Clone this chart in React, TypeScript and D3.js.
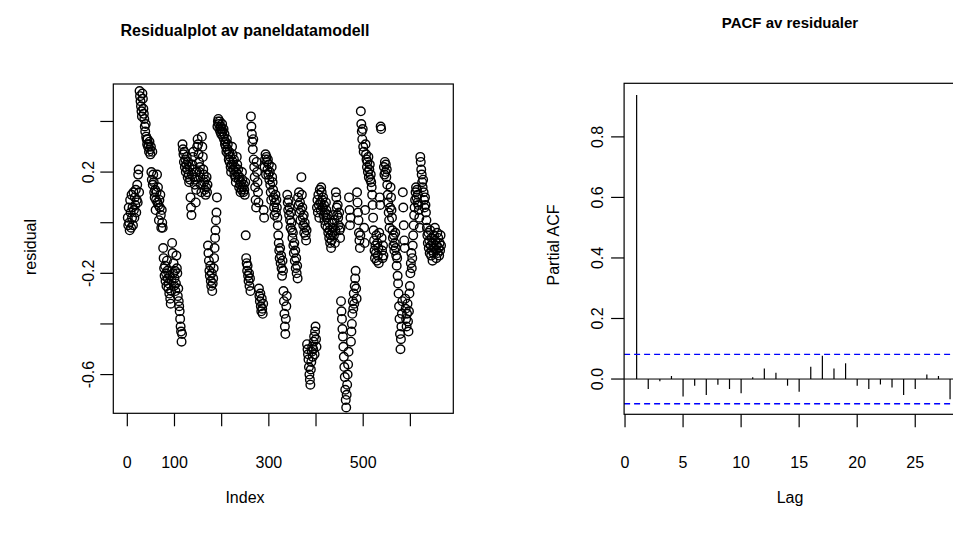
import React from "react";
import * as d3 from "d3";

// Residuals (index 1..N)
const residuals: number[] = [
  0.02, -0.01, 0.06, 0.00, -0.03, 0.09, 0.04, -0.02, 0.11, 0.02,
  0.06, -0.01, 0.12, 0.05, 0.02, 0.10, 0.07, 0.13, 0.04, 0.09, 0.15,
  0.08, 0.19, 0.21, 0.12, 0.52, 0.50, 0.48, 0.46, 0.44, 0.42,
  0.51, 0.49, 0.45, 0.43, 0.41, 0.38, 0.36, 0.39, 0.34, 0.33, 0.31,
  0.33, 0.30, 0.31, 0.28, 0.32, 0.29, 0.27, 0.30, 0.20, 0.17,
  0.28, 0.15, 0.19, 0.16, 0.12, 0.10, 0.13, 0.05, 0.09, 0.12, 0.19,
  0.08, 0.14, 0.07, 0.01, 0.09, 0.06, 0.11, 0.03, -0.02, 0.05,
  0.00, -0.02, -0.10, -0.14, -0.18, -0.21, -0.17, -0.23, -0.20, -0.25, -0.15,
  -0.19, -0.22, -0.26, -0.24, -0.28, -0.21, -0.30, -0.32, -0.27, -0.23,
  -0.08, -0.12, -0.20, -0.16, -0.25, -0.22, -0.19, -0.27, -0.24, -0.13, -0.18,
  -0.20, -0.29, -0.26, -0.31, -0.33, -0.35, -0.38, -0.41, -0.43, -0.47,
  -0.44, 0.31, 0.29, 0.27, 0.24, 0.28, 0.22, 0.25, 0.20, 0.23, 0.26,
  0.21, 0.18, 0.24, 0.19, 0.16, 0.22, 0.17, 0.10, 0.06, 0.03,
  0.19, 0.23, 0.26, 0.28, 0.21, 0.18, 0.15, 0.17, 0.08, 0.13, 0.20,
  0.30, 0.33, 0.31, 0.27, 0.24, 0.20, 0.22, 0.18, 0.15, 0.12,
  0.34, 0.30, 0.26, 0.21, 0.19, 0.16, 0.13, 0.17, 0.11, 0.14, 0.18,
  0.12, 0.15, -0.09, -0.12, -0.15, -0.19, -0.21, -0.17, -0.23, -0.25,
  -0.20, -0.27, -0.24, -0.22, -0.18, -0.14, -0.10, -0.06, -0.03, 0.01, 0.04,
  0.10, 0.38, 0.40, 0.41, 0.39, 0.37, 0.40, 0.36, 0.38, 0.35,
  0.37, 0.39, 0.36, 0.34, 0.37, 0.33, 0.35, 0.31, 0.32, 0.30, 0.28,
  0.33, 0.29, 0.31, 0.27, 0.25, 0.28, 0.24, 0.26, 0.22, 0.20,
  0.23, 0.30, 0.27, 0.24, 0.21, 0.25, 0.19, 0.22, 0.18, 0.16, 0.20,
  0.26, 0.23, 0.19, 0.21, 0.17, 0.14, 0.18, 0.15, 0.12, 0.16,
  0.13, 0.20, 0.17, 0.14, 0.12, 0.15, 0.13, 0.11, 0.16, -0.05, -0.14,
  -0.16, -0.19, -0.17, -0.21, -0.23, -0.20, -0.25, -0.22, -0.27, 0.42,
  0.38, 0.35, 0.32, 0.29, 0.33, 0.25, 0.22, 0.18, 0.14, 0.09, 0.06,
  0.24, 0.20, 0.16, 0.12, 0.08, -0.26, -0.29, -0.31, -0.28, -0.33,
  -0.35, -0.30, -0.34, -0.36, -0.32, 0.05, 0.02, 0.22, 0.25, 0.27, 0.19,
  0.26, 0.24, 0.21, 0.25, 0.19, 0.23, 0.17, 0.20, 0.15, 0.12,
  0.09, 0.22, 0.18, 0.16, 0.13, 0.10, 0.06, 0.03, 0.08, 0.11, 0.04,
  0.09, 0.06, 0.02, -0.01, -0.05, -0.08, -0.11, -0.14, -0.10, -0.16,
  -0.13, -0.18, -0.21, -0.15, -0.19, -0.27, -0.31, -0.36, -0.41, -0.44, -0.38,
  -0.33, -0.29, 0.11, 0.08, 0.05, 0.09, 0.03, 0.06, 0.01, -0.02,
  0.04, 0.00, -0.03, -0.06, -0.04, -0.09, -0.12, -0.08, -0.15, -0.11, -0.18,
  -0.14, -0.20, -0.17, -0.22, 0.10, 0.07, 0.12, 0.04, 0.08, 0.01,
  0.05, 0.18, 0.11, 0.06, 0.02, -0.01, 0.03, -0.04, 0.00, -0.02, -0.05,
  -0.07, -0.03, -0.48, -0.50, -0.52, -0.54, -0.57, -0.60, -0.62, -0.64,
  -0.58, -0.55, -0.51, -0.49, -0.53, -0.50, -0.47, -0.45, -0.52, -0.43, -0.41,
  -0.46, -0.49, 0.06, 0.09, 0.04, 0.11, 0.07, 0.02, 0.13, 0.08,
  0.05, 0.14, 0.12, 0.09, 0.06, 0.10, 0.03, 0.07, 0.01, 0.04, -0.01,
  0.08, 0.05, 0.02, -0.02, 0.03, -0.04, 0.00, -0.06, -0.03, -0.08,
  -0.05, -0.10, -0.07, -0.04, 0.00, -0.02, 0.03, -0.05, 0.01, -0.08, -0.03,
  0.12, 0.10, 0.06, 0.03, 0.07, 0.02, -0.01, 0.04, -0.03, -0.06,
  -0.02, -0.31, -0.35, -0.38, -0.42, -0.45, -0.49, -0.53, -0.57, -0.61, -0.66,
  -0.70, -0.73, -0.68, -0.64, -0.60, -0.56, -0.51, 0.10, 0.05, -0.01,
  0.02, -0.47, -0.43, -0.40, -0.36, -0.31, -0.34, -0.28, -0.32, -0.25, -0.22,
  -0.19, -0.26, -0.30, 0.12, 0.08, 0.04, 0.01, -0.04, -0.07, -0.10,
  -0.05, 0.44, 0.39, 0.36, 0.33, 0.37, 0.30, 0.28, -0.02, -0.08, 0.05,
  0.31, 0.27, 0.25, 0.22, 0.24, 0.20, 0.26, 0.18, 0.21, 0.23,
  0.17, 0.19, 0.16, 0.14, 0.11, 0.07, 0.02, -0.03, -0.07, -0.11, -0.14,
  -0.09, -0.12, -0.05, -0.15, -0.08, -0.13, -0.10, -0.16, -0.04, 0.10,
  0.07, 0.38, 0.37, -0.06, -0.11, -0.14, -0.09, -0.13, 0.22, 0.19, 0.24,
  0.20, 0.23, 0.18, 0.21, 0.15, 0.11, 0.08, 0.04, 0.01, -0.02,
  0.06, 0.14, 0.10, 0.05, 0.02, -0.03, -0.06, -0.09, -0.05, -0.11, -0.08,
  -0.04, -0.10, -0.13, -0.17, -0.14, -0.21, -0.24, -0.28, -0.33, -0.38,
  -0.44, -0.50, -0.46, -0.41, -0.36, -0.31, 0.12, 0.06, -0.01, -0.07, -0.10,
  -0.30, -0.34, -0.38, -0.41, -0.36, -0.32, -0.39, -0.43, -0.35, -0.28,
  -0.25, -0.20, -0.16, -0.12, -0.18, -0.14, -0.09, -0.05, -0.01, 0.03, 0.06,
  0.09, 0.12, 0.14, 0.10, 0.13, 0.08, 0.11, 0.07, 0.05, 0.02,
  -0.02, 0.26, 0.24, 0.21, 0.19, 0.16, 0.14, 0.17, 0.12, 0.09, 0.06,
  0.10, 0.07, 0.04, 0.01, -0.02, -0.05, -0.08, -0.04, -0.10, -0.07,
  -0.12, -0.03, -0.09, -0.13, -0.06, -0.11, -0.15, -0.08, -0.12, -0.05, -0.10,
  -0.02, -0.07, -0.11, -0.14, -0.09, -0.04, -0.12, -0.06, -0.10, -0.13,
  -0.08, -0.11, -0.05, -0.09,
];

const residXTicks = [0, 100, 200, 300, 400, 500, 600];
const residXLabels = ["0", "100", "", "300", "", "500", ""];
const residYTicks = [-0.6, -0.4, -0.2, 0, 0.2, 0.4];
const residYLabels = ["-0.6", "", "-0.2", "", "0.2", ""];

const pacfLags = [1, 2, 3, 4, 5, 6, 7, 8, 9, 10, 11, 12, 13, 14, 15, 16, 17, 18, 19, 20, 21, 22, 23, 24, 25, 26, 27, 28];
const pacfValues = [
  0.938, -0.033, -0.007, 0.010, -0.058, -0.022, -0.053, -0.019, -0.033, -0.047,
  0.006, 0.035, 0.021, -0.022, -0.042, 0.041, 0.077, 0.035, 0.052, -0.022,
  -0.033, -0.018, -0.028, -0.053, -0.033, 0.015, 0.010, -0.067,
];
const pacfClim = 0.0816;
const pacfXTicks = [0, 5, 10, 15, 20, 25];
const pacfYTicks = [0, 0.2, 0.4, 0.6, 0.8];

const FONT = "'Liberation Sans', Arial, Helvetica, sans-serif";
const FS = 16;

export default function App() {
  // Left panel
  const L = { x0: 113.3, x1: 453.3, y0: 84, y1: 413.3 };
  const xL = d3.scaleLinear().domain([-29.7, 691]).range([L.x0, L.x1]);
  const yL = d3.scaleLinear().domain([-0.753, 0.548]).range([L.y1, L.y0]);

  // Right panel
  const R = { x0: 624.1, x1: 962.6, y0: 83.3, y1: 414.3 };
  const xR = d3.scaleLinear().domain([-0.08, 29.08]).range([R.x0, R.x1]);
  const yR = d3.scaleLinear().domain([-0.1165, 0.977]).range([R.y1, R.y0]);

  const tick = 13;

  return (
    <svg
      width={953}
      height={533}
      style={{ position: "absolute", left: 0, top: 0, display: "block", background: "#fff" }}
      fontFamily={FONT}
    >
      <rect x={0} y={0} width={953} height={533} fill="#fff" />

      {/* ---------- Left: residual plot ---------- */}
      <text x={245} y={36} textAnchor="middle" fontWeight="bold" fontSize={16}>
        Residualplot av paneldatamodell
      </text>
      <g>
        {residuals.map((v, i) => (
          <circle key={i} cx={xL(i + 1)} cy={yL(v)} r={4.3} fill="none" stroke="#000" strokeWidth={1.4} />
        ))}
      </g>
      <rect x={L.x0} y={L.y0} width={L.x1 - L.x0} height={L.y1 - L.y0} fill="none" stroke="#000" strokeWidth={1.2} />
      {residXTicks.map((t, i) => (
        <g key={"lx" + i}>
          <line x1={xL(t)} x2={xL(t)} y1={L.y1} y2={L.y1 + tick} stroke="#000" strokeWidth={1.2} />
          {residXLabels[i] && (
            <text x={xL(t)} y={468} textAnchor="middle" fontSize={FS}>
              {residXLabels[i]}
            </text>
          )}
        </g>
      ))}
      {residYTicks.map((t, i) => (
        <g key={"ly" + i}>
          <line x1={L.x0 - tick} x2={L.x0} y1={yL(t)} y2={yL(t)} stroke="#000" strokeWidth={1.2} />
          {residYLabels[i] && (
            <text transform={`translate(${88},${yL(t)}) rotate(-90)`} dy="0.35em" textAnchor="middle" fontSize={FS}>
              {residYLabels[i]}
            </text>
          )}
        </g>
      ))}
      <text x={245} y={503} textAnchor="middle" fontSize={FS}>Index</text>
      <text transform={`translate(30,${247}) rotate(-90)`} dy="0.35em" textAnchor="middle" fontSize={FS}>
        residual
      </text>

      {/* ---------- Right: PACF ---------- */}
      <text x={790} y={28} textAnchor="middle" fontWeight="bold" fontSize={15}>
        PACF av residualer
      </text>
      <line x1={R.x0} x2={R.x1} y1={yR(0)} y2={yR(0)} stroke="#000" strokeWidth={1} />
      {pacfLags.map((lag, i) => (
        <line key={"p" + i} x1={xR(lag)} x2={xR(lag)} y1={yR(0)} y2={yR(pacfValues[i])} stroke="#000" strokeWidth={1.2} />
      ))}
      {[pacfClim, -pacfClim].map((c, i) => (
        <line key={"c" + i} x1={R.x0} x2={R.x1} y1={yR(c)} y2={yR(c)} stroke="#0000ff" strokeWidth={1.3} strokeDasharray="6,4" />
      ))}
      <rect x={R.x0} y={R.y0} width={R.x1 - R.x0} height={R.y1 - R.y0} fill="none" stroke="#000" strokeWidth={1.2} />
      {pacfXTicks.map((t, i) => (
        <g key={"rx" + i}>
          <line x1={xR(t)} x2={xR(t)} y1={R.y1} y2={R.y1 + tick} stroke="#000" strokeWidth={1.2} />
          <text x={xR(t)} y={468} textAnchor="middle" fontSize={FS}>{String(t)}</text>
        </g>
      ))}
      {pacfYTicks.map((t, i) => (
        <g key={"ry" + i}>
          <line x1={R.x0 - tick} x2={R.x0} y1={yR(t)} y2={yR(t)} stroke="#000" strokeWidth={1.2} />
          <text transform={`translate(${597},${yR(t)}) rotate(-90)`} dy="0.35em" textAnchor="middle" fontSize={FS}>
            {t.toFixed(1)}
          </text>
        </g>
      ))}
      <text x={790} y={503} textAnchor="middle" fontSize={FS}>Lag</text>
      <text transform={`translate(553,${245}) rotate(-90)`} dy="0.35em" textAnchor="middle" fontSize={FS}>
        Partial ACF
      </text>
    </svg>
  );
}
